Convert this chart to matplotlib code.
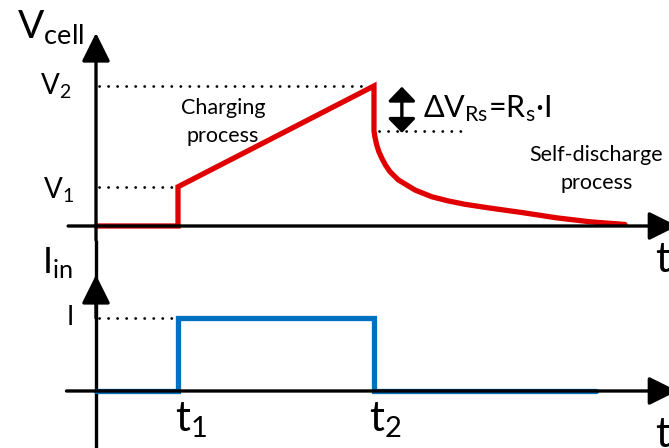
import matplotlib
matplotlib.use("Agg")
import matplotlib.pyplot as plt

plt.rcParams["font.family"] = ["Lato", "DejaVu Sans"]
plt.rcParams["mathtext.fontset"] = "custom"
plt.rcParams["mathtext.rm"] = "Lato"
plt.rcParams["mathtext.it"] = "Lato"

RED = "#E00000"
BLUE = "#0070C0"

# ------------------------------------------------------------
# waveform data (time in units of t1)
# ------------------------------------------------------------
t1 = 1.0
t2 = 3.39
V1 = 0.28
V2 = 1.0
V_after_drop = 0.68

# self-discharge decay after t2
decay_t = [3.39, 3.40, 3.423, 3.450, 3.484, 3.530, 3.585, 3.687, 3.890, 4.094, 4.296,
           4.500, 4.805, 5.207, 5.622, 6.024, 6.451]
decay_v = [0.68, 0.64, 0.579, 0.530, 0.486, 0.435, 0.388, 0.329, 0.257, 0.209, 0.179,
           0.155, 0.128, 0.095, 0.058, 0.030, 0.011]

v_t = [0.0, t1, t1, t2] + decay_t
v_v = [0.0, 0.0, V1, V2] + decay_v

I_level = 1.0
i_t = [0.0, t1, t1, t2, t2, 6.1]
i_v = [0.0, 0.0, I_level, I_level, 0.0, 0.0]

# ------------------------------------------------------------
# figure: two stacked panels sharing the time scale
# ------------------------------------------------------------
fig = plt.figure(figsize=(6.69, 4.48), dpi=100)
ax_v = fig.add_axes([0, 208 / 448, 1, 240 / 448])
ax_i = fig.add_axes([0, 0, 1, 208 / 448])

xlim = (-96 / 82, 573 / 82)
ax_v.set_xlim(xlim)
ax_i.set_xlim(xlim)
ax_v.set_ylim(-0.1, 1.614)
ax_i.set_ylim(-0.781, 2.068)
ax_v.axis("off")
ax_i.axis("off")

LW_AXIS = 2.4
axis_kw = dict(color="black", lw=LW_AXIS, clip_on=False, solid_capstyle="butt")


def arrow(ax, tail, tip, style="-|>,head_length=1.75,head_width=0.87"):
    ax.annotate("", xy=tip, xytext=tail,
                arrowprops=dict(arrowstyle=style, color="black", lw=LW_AXIS,
                                mutation_scale=10, shrinkA=0, shrinkB=0),
                annotation_clip=False)


# axes with arrowheads
arrow(ax_v, (0, -0.1), (0, 1.379))
arrow(ax_v, (-0.34, 0), (7.09, 0))
ax_i.plot([0, 0], [-0.781, 2.068], **axis_kw)
arrow(ax_i, (0, 1.0), (0, 1.59))
arrow(ax_i, (-0.36, 0), (7.09, 0))

# dotted guide lines
dot_kw = dict(color="black", lw=2.0, linestyle=(0, (0.05, 3.2)), dash_capstyle="round")
ax_v.plot([0.04, t2 - 0.03], [V2, V2], **dot_kw)
ax_v.plot([0.04, t1], [V1, V1], **dot_kw)
ax_v.plot([t2 + 0.06, 4.45], [V_after_drop - 0.005, V_after_drop - 0.005], **dot_kw)
ax_i.plot([0.04, t1], [I_level, I_level], **dot_kw)

# traces
ax_v.plot(v_t, v_v, color=RED, lw=3.8, solid_joinstyle="miter", solid_capstyle="round")
ax_i.plot(i_t, i_v, color=BLUE, lw=3.8, solid_joinstyle="miter", solid_capstyle="round")

# series resistance drop marker
arrow(ax_v, (3.73, V_after_drop - 0.015), (3.73, V2 - 0.005),
      style="<|-|>,head_length=0.86,head_width=0.83")

# labels
ax_v.text(-0.96, 1.343, r"$\mathrm{V}_{\mathrm{cell}}$", fontsize=28, ha="left", va="baseline")
ax_v.text(-0.68, 0.936, r"$\mathrm{V}_{2}$", fontsize=20, ha="left", va="baseline")
ax_v.text(-0.65, 0.193, r"$\mathrm{V}_{1}$", fontsize=20, ha="left", va="baseline")
ax_v.text(1.55, 0.743, "Charging\nprocess", fontsize=15.5, ha="center", va="center",
          linespacing=1.45)
ax_v.text(6.10, 0.407, "Self-discharge\nprocess", fontsize=15.5, ha="center", va="center",
          linespacing=1.45)
ax_v.text(3.99, 0.78, r"ΔV$_{\mathrm{Rs}}$=R$_{\mathrm{s}}$·I",
          fontsize=22, ha="left", va="baseline")

ax_i.text(6.82, 1.63, "t", fontsize=30, ha="left", va="baseline")
ax_i.text(-0.66, 1.616, r"$\mathrm{I}_{\mathrm{in}}$", fontsize=26, ha="left", va="baseline")
ax_i.text(-0.27, I_level, "I", fontsize=19, ha="right", va="center")
ax_i.text(0.96, -0.56, r"$\mathrm{t}_{1}$", fontsize=30, ha="left", va="baseline")
ax_i.text(3.33, -0.56, r"$\mathrm{t}_{2}$", fontsize=30, ha="left", va="baseline")
ax_i.text(6.82, -0.77, "t", fontsize=30, ha="left", va="baseline")

fig.savefig("out.png", dpi=100)
